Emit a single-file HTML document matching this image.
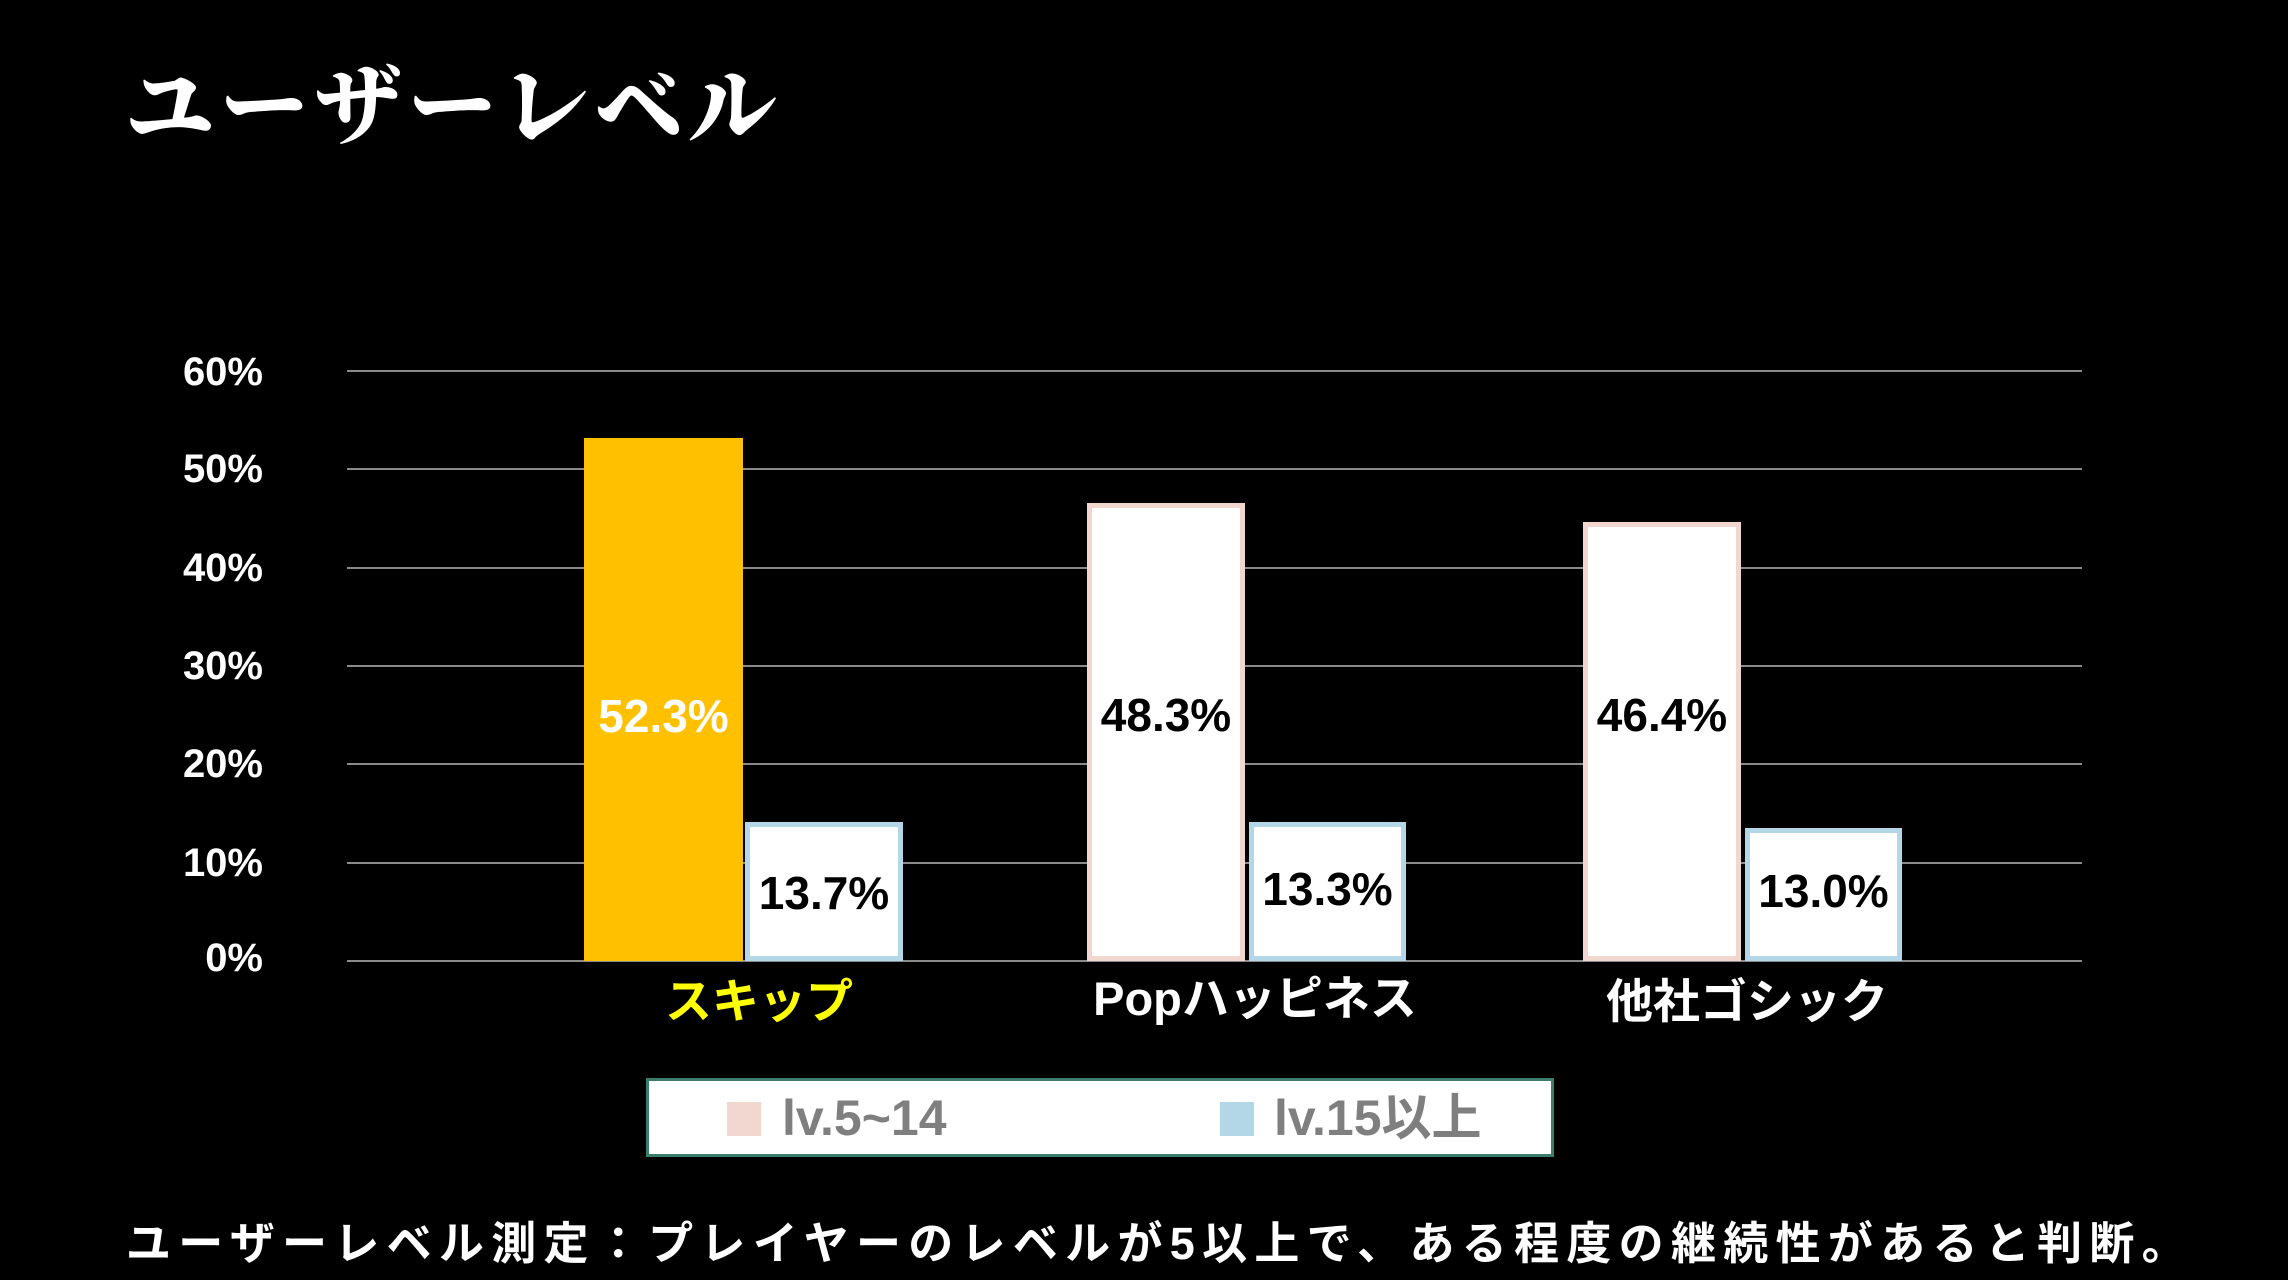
<!DOCTYPE html>
<html><head><meta charset="utf-8"><style>
body{margin:0;background:#000;}
#c{position:relative;width:2288px;height:1280px;background:#000;overflow:hidden;font-family:"Liberation Sans","Noto Sans CJK JP",sans-serif;color:#fff;}
.a{position:absolute;}
.g{position:absolute;left:347px;width:1735px;height:2px;background:#8a8a8a;}
.yl{position:absolute;right:2025px;font-size:40px;font-weight:bold;line-height:40px;}
.bar{position:absolute;box-sizing:border-box;}
.v{position:absolute;font-size:46px;font-weight:bold;text-align:center;line-height:46px;}
.cat{position:absolute;font-size:47px;font-weight:bold;text-align:center;width:500px;line-height:50px;}
</style></head><body><div id="c">
<div class="a" style="left:126px;top:38px;font-family:'Noto Serif CJK JP',serif;font-weight:900;font-size:88px;letter-spacing:6px;">ユーザーレベル</div>

<div class="g" style="top:370px"></div>
<div class="g" style="top:468px"></div>
<div class="g" style="top:567px"></div>
<div class="g" style="top:665px"></div>
<div class="g" style="top:763px"></div>
<div class="g" style="top:862px"></div>
<div class="g" style="top:960px"></div>

<div class="yl" style="top:352px">60%</div>
<div class="yl" style="top:449px">50%</div>
<div class="yl" style="top:548px">40%</div>
<div class="yl" style="top:646px">30%</div>
<div class="yl" style="top:744px">20%</div>
<div class="yl" style="top:843px">10%</div>
<div class="yl" style="top:938px">0%</div>

<div class="bar" style="left:584px;top:438px;width:159px;height:523px;background:#ffc000;"></div>
<div class="bar" style="left:745px;top:822px;width:158px;height:139px;background:#fff;border:5px solid #b4d7e8;"></div>
<div class="bar" style="left:1087px;top:503px;width:158px;height:458px;background:#fff;border:5px solid #f2d6d0;"></div>
<div class="bar" style="left:1249px;top:822px;width:157px;height:139px;background:#fff;border:5px solid #b4d7e8;"></div>
<div class="bar" style="left:1583px;top:522px;width:158px;height:439px;background:#fff;border:5px solid #f2d6d0;"></div>
<div class="bar" style="left:1745px;top:828px;width:157px;height:133px;background:#fff;border:5px solid #b4d7e8;"></div>

<div class="v" style="left:584px;width:159px;top:693px;color:#fff">52.3%</div>
<div class="v" style="left:745px;width:158px;top:870px;color:#000">13.7%</div>
<div class="v" style="left:1087px;width:158px;top:692px;color:#000">48.3%</div>
<div class="v" style="left:1249px;width:157px;top:866px;color:#000">13.3%</div>
<div class="v" style="left:1583px;width:158px;top:692px;color:#000">46.4%</div>
<div class="v" style="left:1745px;width:157px;top:868px;color:#000">13.0%</div>

<div class="cat" style="left:509px;top:977px;color:#ffff00">スキップ</div>
<div class="cat" style="left:1005px;top:974px;">Popハッピネス</div>
<div class="cat" style="left:1497px;top:977px;">他社ゴシック</div>

<div class="a" style="left:646px;top:1078px;width:908px;height:79px;box-sizing:border-box;background:#fff;border:3px solid #3a7d6a;"></div>
<div class="a" style="left:727px;top:1102px;width:34px;height:34px;background:#f2d6d0;"></div>
<div class="a" style="left:782px;top:1090px;font-size:50px;line-height:56px;color:#7f7f7f;font-weight:bold;">lv.5~14</div>
<div class="a" style="left:1220px;top:1102px;width:34px;height:34px;background:#b4d7e8;"></div>
<div class="a" style="left:1274px;top:1090px;font-size:50px;line-height:56px;color:#7f7f7f;font-weight:bold;">lv.15以上</div>

<div class="a" style="left:126px;top:1216px;font-size:45px;line-height:56px;letter-spacing:7.3px;white-space:nowrap;font-weight:bold;">ユーザーレベル測定：プレイヤーのレベルが5以上で、ある程度の継続性があると判断。</div>
</div></body></html>
